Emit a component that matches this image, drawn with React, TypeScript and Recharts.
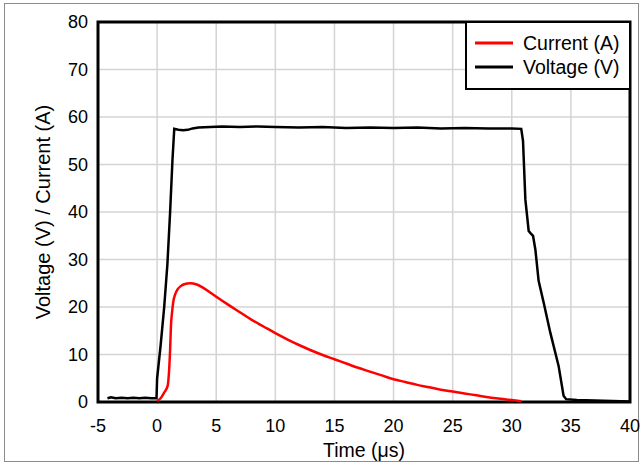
import React from 'react';
import {
  LineChart,
  Line,
  XAxis,
  YAxis,
  CartesianGrid,
  Legend,
  ReferenceArea,
} from 'recharts';

const xTicks = [-5, 0, 5, 10, 15, 20, 25, 30, 35, 40];
const yTicks = [0, 10, 20, 30, 40, 50, 60, 70, 80];

// time (us) / voltage (V)
const voltageTime = [
  -4.2, -3.9, -3.5, -3.0, -2.5, -2.0, -1.5, -1.0, -0.5, -0.05, 0.0, 0.3, 0.6, 0.87, 1.1, 1.3, 1.45,
  1.8, 2.2, 2.6, 3.0, 3.5, 4.5, 5.5, 7, 8.5, 10, 12, 14, 16, 18, 20, 22, 24, 26, 28, 30, 30.8,
  30.95, 31.15, 31.43, 31.6, 31.8, 32.0, 32.27, 32.7, 33.26, 33.96, 34.38, 34.6, 35.5, 37, 38.5, 40,
];
const voltageValues = [
  0.8, 1.0, 0.8, 0.9, 0.8, 0.9, 0.8, 0.9, 0.8, 0.8, 5, 12, 20, 29, 40, 51, 57.5,
  57.3, 57.2, 57.3, 57.6, 57.8, 57.9, 58.0, 57.9, 58.0, 57.9, 57.8, 57.9, 57.7, 57.8, 57.7, 57.8, 57.6, 57.7, 57.6, 57.6, 57.5,
  55, 42.6, 36, 35.5, 35, 32, 25.5, 20.9, 14.6, 7.6, 1.3, 0.6, 0.4, 0.3, 0.2, 0.1,
];

// time (us) / current (A)
const currentTime = [
  0, 0.3, 0.6, 0.89, 1.02, 1.1, 1.17, 1.27, 1.36, 1.55, 1.73, 2.0, 2.29, 2.8, 3.3, 3.8, 4.4, 5.1,
  6, 7, 8, 9, 10, 11, 12, 13, 14, 15, 16, 17, 18, 19, 20, 21, 22, 23, 24, 25, 26, 27, 28, 29, 30, 30.8,
];
const currentValues = [
  0.2, 0.8, 2, 3.4, 6.9, 11, 16, 19, 21, 22.8, 23.7, 24.4, 24.8, 25, 24.8, 24.2, 23.2, 22,
  20.5, 18.9, 17.3, 15.9, 14.5, 13.2, 12.0, 10.9, 9.9, 9.0, 8.1, 7.2, 6.4, 5.6, 4.8, 4.2, 3.6, 3.1, 2.6, 2.2, 1.8, 1.4, 1.0, 0.7, 0.4, 0.15,
];

const voltageData = voltageTime.map((t, i) => ({ t, v: voltageValues[i] }));
const currentData = currentTime.map((t, i) => ({ t, v: currentValues[i] }));

const FONT = '"Liberation Sans", Arial, sans-serif';

const legendItems = [
  { name: 'Current (A)', color: '#ff0000' },
  { name: 'Voltage (V)', color: '#000000' },
];

const LegendBox = () => (
  <div
    style={{
      boxSizing: 'border-box',
      width: 166,
      height: 69,
      border: '2.5px solid #000',
      background: '#fff',
      paddingTop: 8,
      paddingLeft: 8,
      fontFamily: FONT,
      fontSize: 19.5,
      color: '#000',
    }}
  >
    {legendItems.map((item) => (
      <div key={item.name} style={{ display: 'flex', alignItems: 'center', height: 24 }}>
        <svg width={38} height={4} style={{ marginRight: 10 }}>
          <line x1={0} y1={2} x2={38} y2={2} stroke={item.color} strokeWidth={3} />
        </svg>
        <span>{item.name}</span>
      </div>
    ))}
  </div>
);

export default function App() {
  return (
    <div style={{ position: 'absolute', left: 0, top: 0, width: 642, height: 463, background: '#fff' }}>
      <div
        style={{
          position: 'absolute',
          left: 4,
          top: 3,
          width: 633,
          height: 457,
          border: '1px solid #8c8c8c',
        }}
      />
      <LineChart
        width={642}
        height={463}
        margin={{ top: 22, right: 12, bottom: 21, left: 0 }}
        style={{ fontFamily: FONT }}
      >
        <CartesianGrid stroke="#d4d4d4" strokeWidth={1.5} />
        <XAxis
          dataKey="t"
          type="number"
          domain={[-5, 40]}
          ticks={xTicks}
          height={40}
          tickLine={false}
          tickSize={0}
          tickMargin={17}
          axisLine={false}
          tick={{ fill: '#000', fontSize: 18 }}
          allowDuplicatedCategory={false}
          label={{ value: 'Time (\u03bcs)', position: 'insideBottom', offset: -15, fill: '#000', fontSize: 19.5 }}
        />
        <YAxis
          type="number"
          domain={[0, 80]}
          ticks={yTicks}
          width={98}
          tickLine={false}
          tickSize={0}
          tickMargin={10}
          axisLine={false}
          tick={{ fill: '#000', fontSize: 18 }}
          label={{
            value: 'Voltage (V) / Current (A)',
            angle: -90,
            position: 'insideLeft',
            offset: 43,
            style: { textAnchor: 'middle' },
            fill: '#000',
            fontSize: 20,
          }}
        />
        <Line
          data={voltageData}
          dataKey="v"
          name="Voltage (V)"
          type="linear"
          stroke="#000000"
          strokeWidth={2.5}
          dot={false}
          activeDot={false}
          isAnimationActive={false}
        />
        <Line
          data={currentData}
          dataKey="v"
          name="Current (A)"
          type="monotone"
          stroke="#ff0000"
          strokeWidth={2.5}
          dot={false}
          activeDot={false}
          isAnimationActive={false}
        />
        <ReferenceArea
          x1={-5}
          x2={40}
          y1={0}
          y2={80}
          fill="none"
          stroke="#000"
          strokeWidth={3}
          ifOverflow="visible"
        />
        <Legend
          layout="vertical"
          align="center"
          verticalAlign="middle"
          content={<LegendBox />}
          wrapperStyle={{ top: 21, left: 465, width: 166, height: 69 }}
        />
      </LineChart>
    </div>
  );
}
